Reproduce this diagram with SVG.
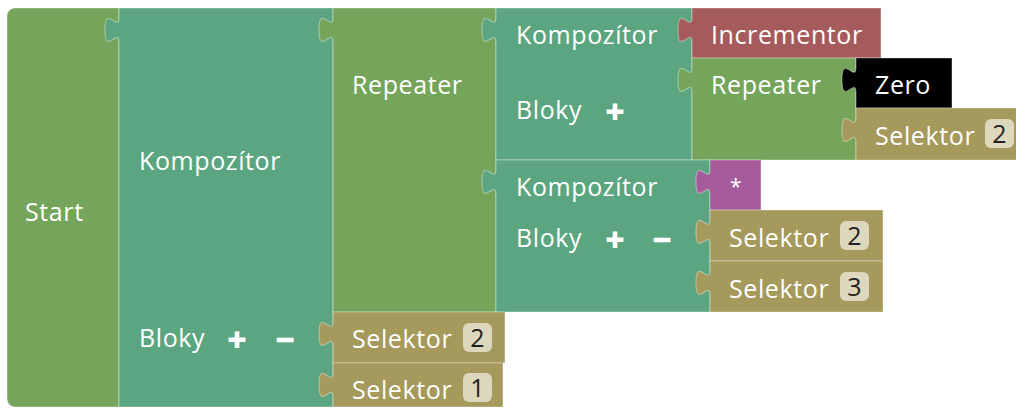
<svg xmlns="http://www.w3.org/2000/svg" width="1016" height="408" viewBox="0 0 1016 408">
<defs>
<style>
.b{stroke:#ffffff;stroke-opacity:0.35;stroke-width:1.2}
.green{fill:#74a55b}
.teal{fill:#5ba580}
.red{fill:#a55b5b}
.black{fill:#000000}
.olive{fill:#a5995b}
.purple{fill:#a55b99}
.t{font-family:"Open Sans","Noto Sans",sans-serif;font-size:25px;letter-spacing:0.6px;fill:#ffffff}
.pm{font-family:"Open Sans","Noto Sans",sans-serif;font-size:34px;font-weight:800;fill:#ffffff;text-anchor:middle}
.badge{fill:#dcd7bd}
.bt{font-family:"Open Sans","Noto Sans",sans-serif;font-size:25px;fill:#222222;text-anchor:middle}
</style>
</defs>
<rect width="1016" height="408" fill="#ffffff"/>
<g id="start">
<path class="b green" d="M15,8 H119 V407 H15 A8,8 0 0 1 7,399 V16 A8,8 0 0 1 15,8 Z"/>
<text class="t" x="25" y="221">Start</text>
</g>
<g id="kompozitor1">
<path class="b teal" d="M119,16.75 c0,17.5 -14,-14 -14,13.125 s14,-4.375 14,13.125 V407 H333 V8 H119 Z"/>
<text class="t" x="139" y="170">Kompozítor</text>
<text class="t" x="139" y="347">Bloky</text>
<text class="pm" x="237" y="352">+</text>
<text class="pm" x="285" y="352">−</text>
</g>
<g id="repeater1">
<path class="b green" d="M333,16.75 c0,17.5 -14,-14 -14,13.125 s14,-4.375 14,13.125 V312 H496 V8 H333 Z"/>
<text class="t" x="352" y="94">Repeater</text>
</g>
<g id="kompozitor2">
<path class="b teal" d="M496,16.75 c0,17.5 -14,-14 -14,13.125 s14,-4.375 14,13.125 V160 H692 V8 H496 Z"/>
<text class="t" x="516" y="44">Kompozítor</text>
<text class="t" x="516" y="119">Bloky</text>
<text class="pm" x="615" y="124">+</text>
</g>
<g id="incrementor">
<path class="b red" d="M692,16.75 c0,17.5 -14,-14 -14,13.125 s14,-4.375 14,13.125 V58 H881 V8 H692 Z"/>
<text class="t" x="711" y="44">Incrementor</text>
</g>
<g id="repeater2">
<path class="b green" d="M692,66.75 c0,17.5 -14,-14 -14,13.125 s14,-4.375 14,13.125 V160 H856 V58 H692 Z"/>
<text class="t" x="711" y="94">Repeater</text>
</g>
<g id="zero">
<path class="b black" d="M856,66.75 c0,17.5 -14,-14 -14,13.125 s14,-4.375 14,13.125 V108 H952 V58 H856 Z"/>
<text class="t" x="875" y="94">Zero</text>
</g>
<g id="selektor-a">
<path class="b olive" d="M856,116.75 c0,17.5 -14,-14 -14,13.125 s14,-4.375 14,13.125 V160 H1028 V108 H856 Z"/>
<text class="t" x="875" y="145">Selektor</text>
<rect class="badge" x="985" y="119" width="29" height="29" rx="6"/>
<text class="bt" x="999.5" y="143">2</text>
</g>
<g id="kompozitor3">
<path class="b teal" d="M496,168.75 c0,17.5 -14,-14 -14,13.125 s14,-4.375 14,13.125 V312 H710 V160 H496 Z"/>
<text class="t" x="516" y="196">Kompozítor</text>
<text class="t" x="516" y="247">Bloky</text>
<text class="pm" x="615" y="252">+</text>
<text class="pm" x="662" y="252">−</text>
</g>
<g id="multiply">
<path class="b purple" d="M710,168.75 c0,17.5 -14,-14 -14,13.125 s14,-4.375 14,13.125 V210 H761 V160 H710 Z"/>
<text class="t" x="736" y="194" text-anchor="middle" style="font-size:21px">*</text>
</g>
<g id="selektor-b">
<path class="b olive" d="M710,218.75 c0,17.5 -14,-14 -14,13.125 s14,-4.375 14,13.125 V261 H883 V210 H710 Z"/>
<text class="t" x="729" y="247">Selektor</text>
<rect class="badge" x="840" y="221" width="29" height="29" rx="6"/>
<text class="bt" x="854.5" y="245">2</text>
</g>
<g id="selektor-c">
<path class="b olive" d="M710,269.75 c0,17.5 -14,-14 -14,13.125 s14,-4.375 14,13.125 V312 H883 V261 H710 Z"/>
<text class="t" x="729" y="298">Selektor</text>
<rect class="badge" x="840" y="272" width="29" height="29" rx="6"/>
<text class="bt" x="854.5" y="296">3</text>
</g>
<g id="selektor-d">
<path class="b olive" d="M333,320.75 c0,17.5 -14,-14 -14,13.125 s14,-4.375 14,13.125 V363 H505 V312 H333 Z"/>
<text class="t" x="352" y="348">Selektor</text>
<rect class="badge" x="463" y="323" width="29" height="29" rx="6"/>
<text class="bt" x="477.5" y="347">2</text>
</g>
<g id="selektor-e">
<path class="b olive" d="M333,371.75 c0,17.5 -14,-14 -14,13.125 s14,-4.375 14,13.125 V407 H503 V363 H333 Z"/>
<text class="t" x="352" y="399">Selektor</text>
<rect class="badge" x="463" y="373" width="29" height="29" rx="6"/>
<text class="bt" x="477.5" y="397">1</text>
</g>
<g id="connectors"></g>
</svg>
